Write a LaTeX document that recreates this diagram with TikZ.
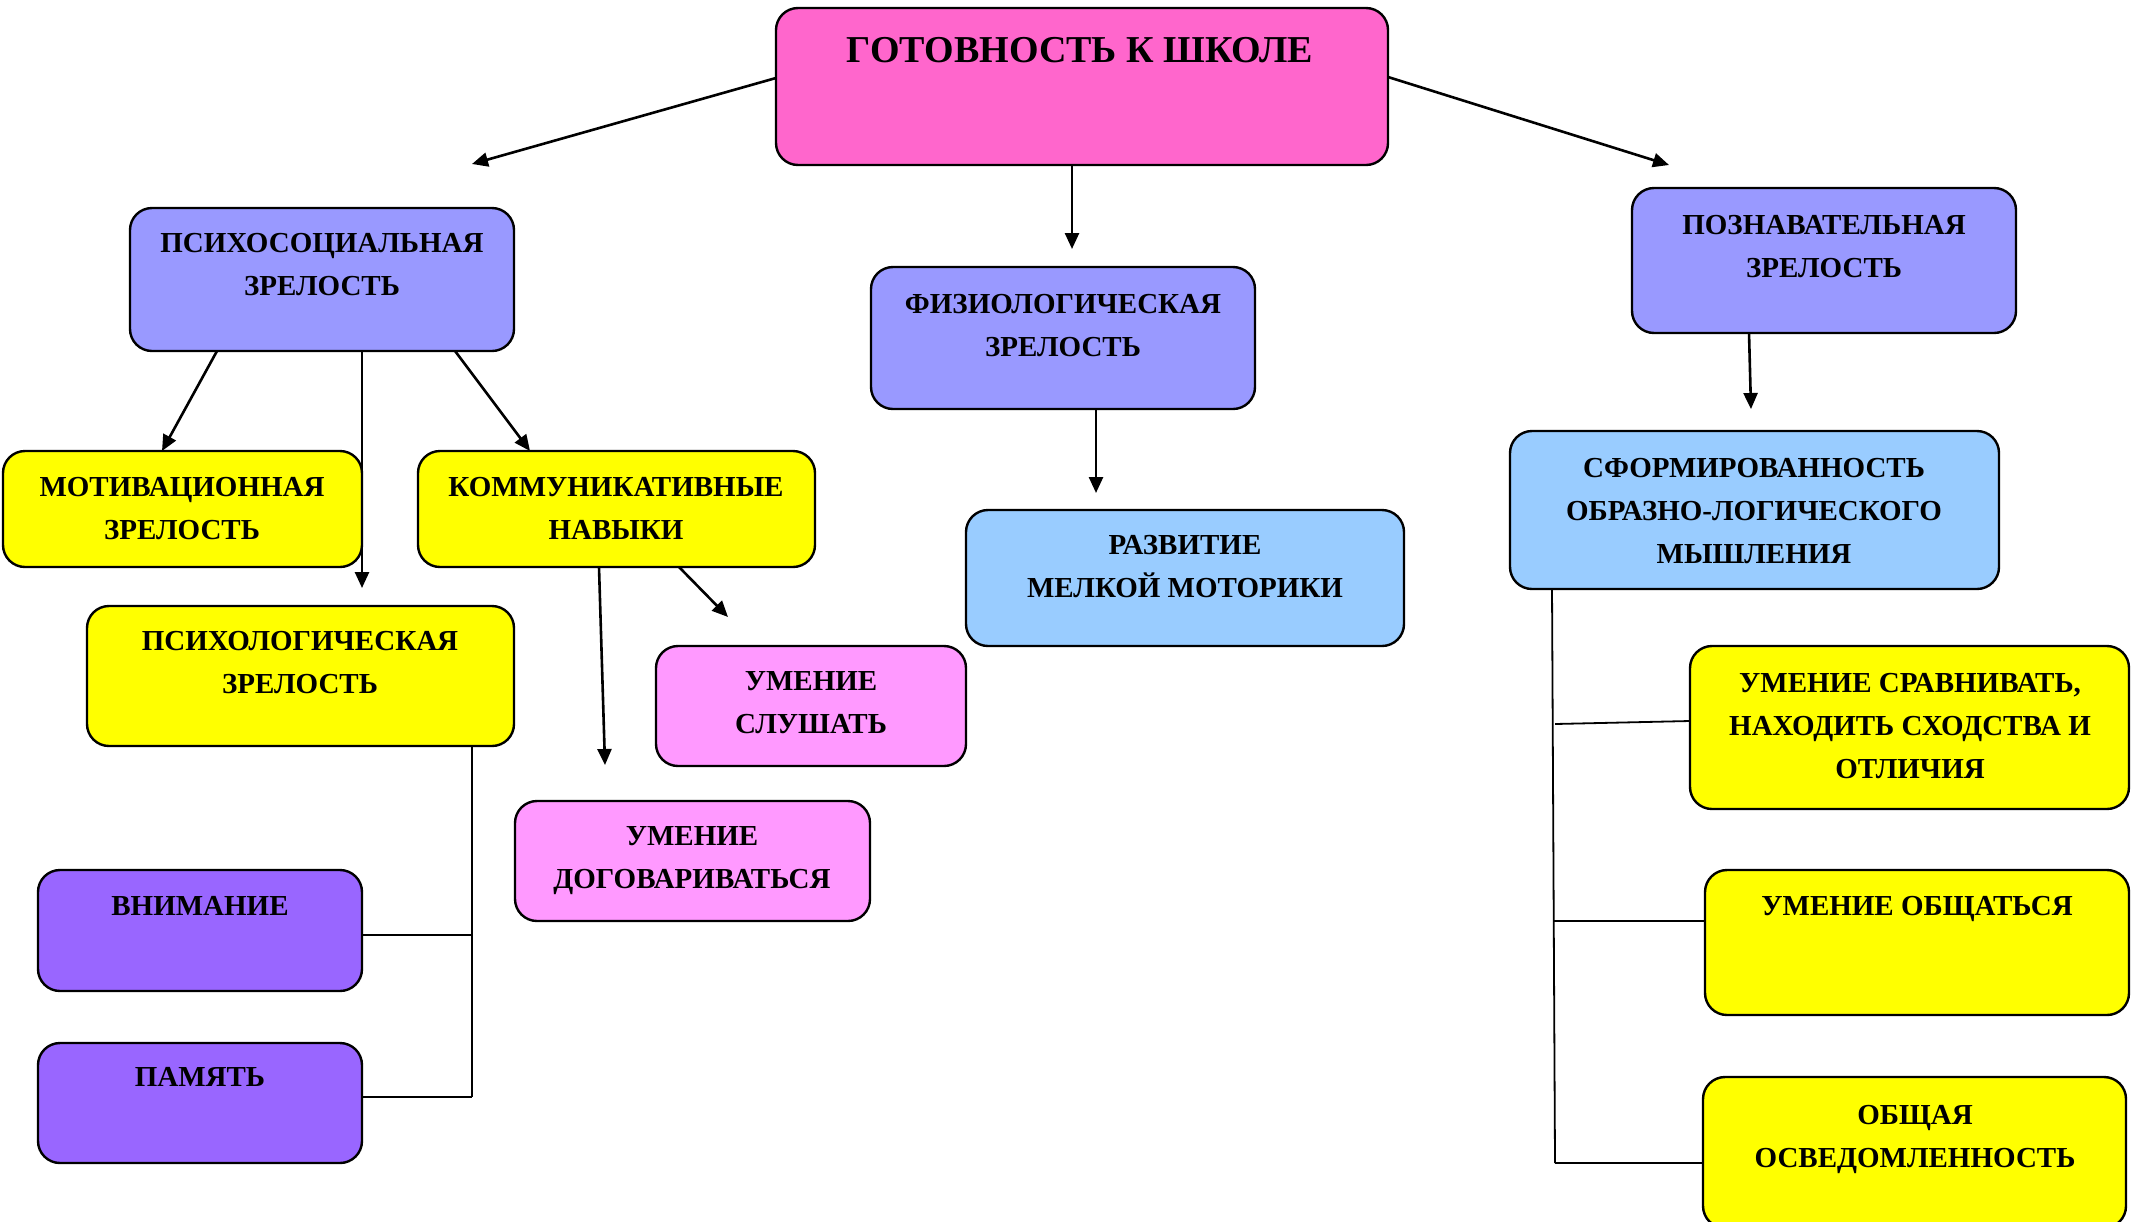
\documentclass[tikz,border=0pt]{standalone}
\usepackage{fontspec}
\setmainfont{Liberation Serif}
\usetikzlibrary{arrows.meta,calc}
\definecolor{cTop}{HTML}{FF66CC}
\definecolor{cLav}{HTML}{9999FF}
\definecolor{cYel}{HTML}{FFFF00}
\definecolor{cBlu}{HTML}{99CCFF}
\definecolor{cPnk}{HTML}{FF99FF}
\definecolor{cPur}{HTML}{9966FF}
\newcommand\mkbox[6]{\node[box,fill=#2,minimum width={(#5-#3)*0.5pt},minimum height={(#6-#4)*0.5pt}] (#1) at ({(#3+#5)/2},{(#4+#6)/2}) {};}
\begin{document}
\begin{tikzpicture}[x=0.5pt,y=-0.5pt,
  box/.style={draw=black, line width=1.2pt, rounded corners=11pt, inner sep=0pt, outer sep=0pt},
  lbl/.style={anchor=north, inner sep=0pt, align=center, font=\bfseries\fontsize{14.5}{21.5}\selectfont},
  ttl/.style={anchor=north, inner sep=0pt, align=center, font=\bfseries\fontsize{19}{23}\selectfont},
  arr/.style={line width=1.3pt, -{Triangle[length=8pt,width=7pt]}},
  tree/.style={line width=0.9pt}]
\path[use as bounding box, clip] (0,0) rectangle (2139,1221);

% boxes
\mkbox{top}{cTop}{776}{8}{1388}{165}
\mkbox{ps}{cLav}{130}{208}{514}{351}
\mkbox{mo}{cYel}{3}{451}{362}{567}
\mkbox{ko}{cYel}{418}{451}{815}{567}
\mkbox{pl}{cYel}{87}{606}{514}{746}
\mkbox{fz}{cLav}{871}{267}{1255}{409}
\mkbox{rz}{cBlu}{966}{510}{1404}{646}
\mkbox{pz}{cLav}{1632}{188}{2016}{333}
\mkbox{sf}{cBlu}{1510}{431}{1999}{589}
\mkbox{sl}{cPnk}{656}{646}{966}{766}
\mkbox{dg}{cPnk}{515}{801}{870}{921}
\mkbox{vn}{cPur}{38}{870}{362}{991}
\mkbox{pm}{cPur}{38}{1043}{362}{1163}
\mkbox{sr}{cYel}{1690}{646}{2129}{809}
\mkbox{ob}{cYel}{1705}{870}{2129}{1015}
\mkbox{os}{cYel}{1703}{1077}{2126}{1228}

% texts
\node[ttl] (topt) at (1080,37) {ГОТОВНОСТЬ К ШКОЛЕ};
\node[lbl] (pst) at (322,233) {ПСИХОСОЦИАЛЬНАЯ\\ЗРЕЛОСТЬ};
\node[lbl] (mot) at (182,477) {МОТИВАЦИОННАЯ\\ЗРЕЛОСТЬ};
\node[lbl] (kot) at (616,477) {КОММУНИКАТИВНЫЕ\\НАВЫКИ};
\node[lbl] (plt) at (300,631) {ПСИХОЛОГИЧЕСКАЯ\\ЗРЕЛОСТЬ};
\node[lbl] (fzt) at (1063,294) {ФИЗИОЛОГИЧЕСКАЯ\\ЗРЕЛОСТЬ};
\node[lbl] (rzt) at (1185,535) {РАЗВИТИЕ\\МЕЛКОЙ МОТОРИКИ};
\node[lbl] (pzt) at (1824,215) {ПОЗНАВАТЕЛЬНАЯ\\ЗРЕЛОСТЬ};
\node[lbl] (sft) at (1754,458) {СФОРМИРОВАННОСТЬ\\ОБРАЗНО-ЛОГИЧЕСКОГО\\МЫШЛЕНИЯ};
\node[lbl] (slt) at (811,671) {УМЕНИЕ\\СЛУШАТЬ};
\node[lbl] (dgt) at (692,826) {УМЕНИЕ\\ДОГОВАРИВАТЬСЯ};
\node[lbl] (vnt) at (200,896) {ВНИМАНИЕ};
\node[lbl] (pmt) at (200,1067) {ПАМЯТЬ};
\node[lbl] (srt) at (1910,673) {УМЕНИЕ СРАВНИВАТЬ,\\НАХОДИТЬ СХОДСТВА И\\ОТЛИЧИЯ};
\node[lbl] (obt) at (1917,896) {УМЕНИЕ ОБЩАТЬСЯ};
\node[lbl] (ost) at (1915,1105) {ОБЩАЯ\\ОСВЕДОМЛЕННОСТЬ};

% arrow end points
\coordinate (tipL) at (472,164);
\coordinate (tipC) at (1072,249);
\coordinate (tipR) at (1669,165);
\coordinate (tipPl) at (362,588);
\coordinate (tipFz) at (1096,493);
\coordinate (tipPz) at (1751,409);
\coordinate (tipSl) at (728,617);
\coordinate (tipDg) at (605,765);

% arrows
\draw[arr] ($(top.north west)+(0,70)$) -- (tipL);
\draw[arr] ($(top.south west)+(296,0)$) -- (tipC);
\draw[arr] ($(top.north east)+(0,69)$) -- (tipR);
\draw[arr] ($(ps.south west)+(87,0)$) -- ($(mo.north west)+(159,0)$);
\draw[arr] ($(ps.south west)+(232,0)$) -- (tipPl);
\draw[arr] ($(ps.south west)+(325,0)$) -- ($(ko.north west)+(112,0)$);
\draw[arr] ($(fz.south west)+(225,0)$) -- (tipFz);
\draw[arr] ($(pz.south west)+(117,0)$) -- (tipPz);
\draw[arr] ($(ko.south west)+(261,0)$) -- (tipSl);
\draw[arr] ($(ko.south west)+(181,0)$) -- (tipDg);

% left tree
\coordinate (lt1) at (472,935);
\coordinate (lt2) at (472,1097);
\draw[tree] ($(pl.south west)+(385,0)$) -- (lt2);
\draw[tree] (vn.east |- lt1) -- (lt1);
\draw[tree] (pm.east |- lt2) -- (lt2);

% right tree
\coordinate (rt1) at (1555,724);
\coordinate (rt2) at (1553,921);
\coordinate (rt3) at (1555,1163);
\draw[tree] ($(sf.south west)+(42,0)$) -- (rt3);
\draw[tree] (rt1) -- ($(sr.south west)+(0,-88)$);
\draw[tree] (rt2) -- (ob.west |- rt2);
\draw[tree] (rt3) -- (os.west |- rt3);
\end{tikzpicture}
\end{document}
